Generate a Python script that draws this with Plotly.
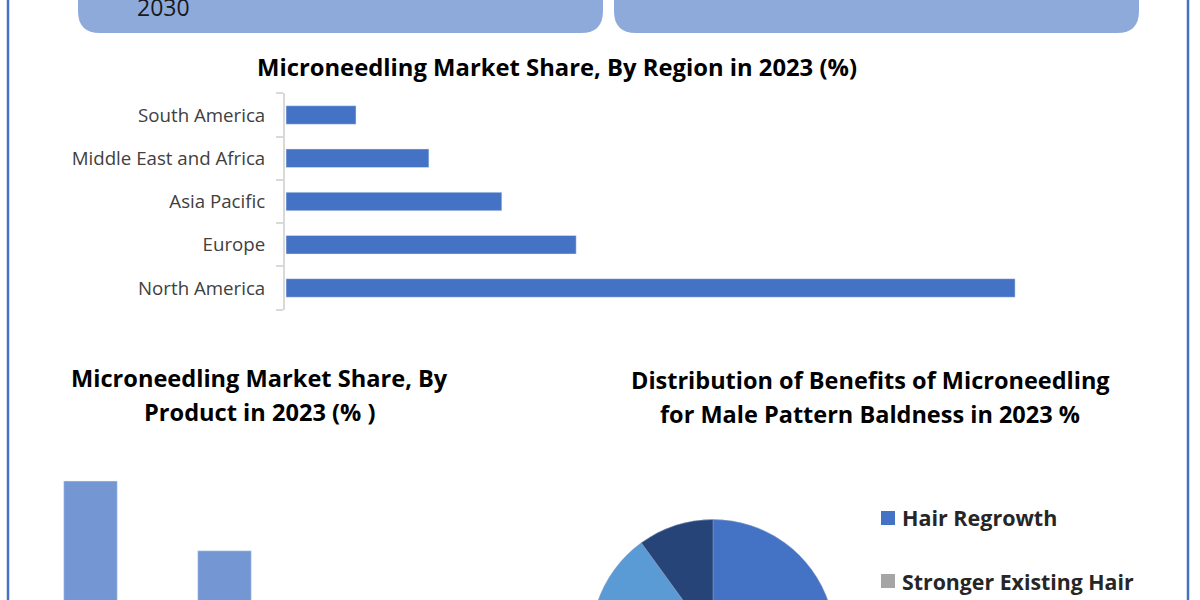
import plotly.graph_objects as go

# figure is taller than the 600px window, the lower part of the charts falls off the bottom like in the original
W = 1200
H = 800

regions = ['North America', 'Europe', 'Asia Pacific', 'Middle East and Africa', 'South America']
region_share = [50.0, 19.9, 14.8, 9.8, 4.8]

products = ['Product A', 'Product B']
product_share = [60, 45]

benefits = ['Hair Regrowth', 'Stronger Existing Hair', 'Benefit C', 'Benefit D']
benefit_share = [40, 30, 20, 10]
benefit_colors = ['#4472C4', '#A5A5A5', '#5B9BD5', '#264478']

TITLE_FONT = 'Open Sans'


def px_x(v):
    return v / W


def px_y(v):
    return 1 - v / H


def round_box(x0, x1, y0, y1, r):
    p = [
        f'M {px_x(x0)} {px_y(y0)}',
        f'L {px_x(x0)} {px_y(y1 - r)}',
        f'Q {px_x(x0)} {px_y(y1)} {px_x(x0 + r)} {px_y(y1)}',
        f'L {px_x(x1 - r)} {px_y(y1)}',
        f'Q {px_x(x1)} {px_y(y1)} {px_x(x1)} {px_y(y1 - r)}',
        f'L {px_x(x1)} {px_y(y0)} Z',
    ]
    return dict(type='path', xref='paper', yref='paper', path=' '.join(p),
                fillcolor='#8EAADB', line=dict(width=0), layer='below')


fig = go.Figure()

fig.add_trace(go.Bar(x=region_share, y=regions, orientation='h', marker_color='#4472C4',
                     xaxis='x', yaxis='y', showlegend=False))
fig.add_trace(go.Bar(x=products, y=product_share, width=0.4, marker_color='#7497D4',
                     xaxis='x2', yaxis='y2', showlegend=False))
fig.add_trace(go.Pie(labels=benefits, values=benefit_share, sort=False, direction='clockwise',
                     rotation=0, marker=dict(colors=benefit_colors, line=dict(color='#8a9cc0', width=0.5)),
                     textinfo='none', showlegend=False,
                     domain=dict(x=[px_x(591), px_x(835)], y=[px_y(763.5), px_y(519.5)])))

shapes = [
    round_box(78, 603, -40, 33, 22),
    round_box(614, 1139, -40, 33, 22),
    dict(type='line', xref='paper', yref='paper', x0=px_x(8), x1=px_x(8), y0=0, y1=1,
         line=dict(color='#4472C4', width=2.5)),
    dict(type='line', xref='paper', yref='paper', x0=px_x(1188), x1=px_x(1188), y0=0, y1=1,
         line=dict(color='#4472C4', width=2.5)),
    dict(type='rect', xref='paper', yref='paper', x0=px_x(881), x1=px_x(895), y0=px_y(525), y1=px_y(511),
         fillcolor=benefit_colors[0], line=dict(width=0)),
    dict(type='rect', xref='paper', yref='paper', x0=px_x(881), x1=px_x(895), y0=px_y(588), y1=px_y(574),
         fillcolor=benefit_colors[1], line=dict(width=0)),
]


def label(text, x, y, size, bold=True, xanchor='center', color='#000000'):
    t = f'<b>{text}</b>' if bold else text
    return dict(text=t, xref='paper', yref='paper', x=px_x(x), y=px_y(y), xanchor=xanchor, yanchor='middle',
                showarrow=False, align='center', font=dict(family=TITLE_FONT, size=size, color=color))


annotations = [
    label('2030', 135, 7, 23, bold=False, xanchor='left', color='#1a1a1a'),
    label('Microneedling Market Share, By Region in 2023 (%)', 556.5, 67, 23.8),
    label('Microneedling Market Share, By', 259, 378, 23.6),
    label('Product in 2023 (% )', 259, 412, 23.6),
    label('Distribution of Benefits of Microneedling', 870, 380, 23.5),
    label('for Male Pattern Baldness in 2023 %', 870, 414, 23.5),
    label(benefits[0], 900, 517, 21.5, xanchor='left', color='#262626'),
    label(benefits[1], 900, 581, 21.3, xanchor='left', color='#262626'),
]

fig.update_layout(
    width=W, height=H,
    margin=dict(l=0, r=0, t=0, b=0),
    paper_bgcolor='white', plot_bgcolor='white',
    bargap=0.57,
    shapes=shapes,
    annotations=annotations,
    xaxis=dict(domain=[px_x(285), px_x(1088)], range=[-0.07, 55], visible=False, anchor='y'),
    yaxis=dict(domain=[px_y(309.6), px_y(93.4)], type='category', anchor='x',
               showline=True, linecolor='#D9D9D9', linewidth=2, showgrid=False,
               ticks='outside', ticklen=7, tickcolor='#D9D9D9', tickwidth=2, tickson='boundaries',
               ticklabelstandoff=14,
               tickfont=dict(family='Open Sans', size=18.7, color='#404040')),
    xaxis2=dict(domain=[px_x(23.5), px_x(291.5)], range=[-0.5, 1.5], type='category', anchor='y2', visible=False),
    yaxis2=dict(domain=[px_y(760), px_y(434.5)], range=[0, 70], anchor='x2', visible=False),
)

fig.write_html('out.html', config=dict(displayModeBar=False),
               post_script="document.body.style.margin='0';document.body.style.overflow='hidden';")
